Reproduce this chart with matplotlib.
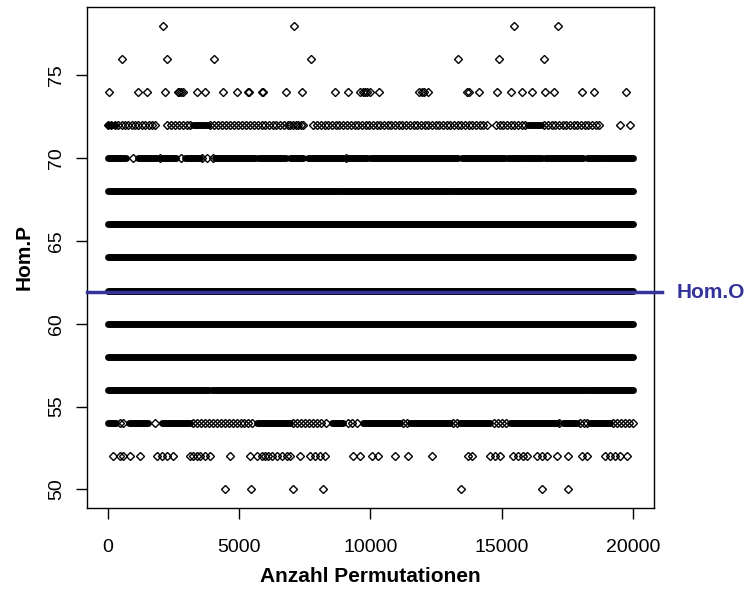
import matplotlib
matplotlib.use("Agg")
import matplotlib.pyplot as plt

plt.rcParams['font.family'] = ['Liberation Sans', 'DejaVu Sans']

# observed value of the original data (horizontal reference line)
hom_o = 61.9

# sparse rows: x positions (permutation index) of single points
row78_x = [2080, 7090, 15480, 17130]
row76_x = [550, 2260, 4030, 7730, 13350, 14910, 16620]
row74_x = [40, 1160, 1500, 2170, 2650, 2720, 2780, 2840, 3400, 3700, 4390, 4900,
           5330, 5370, 5860, 5900, 6770, 7400, 8650, 9130, 9620, 9720, 9800, 9880,
           9980, 10340, 11830, 11950, 12050, 12200, 13660, 13750, 14150, 14810,
           15340, 15760, 16170, 16660, 17000, 18050, 18510, 19730]
row72_x = [0, 130, 260, 400, 520, 650, 780, 900, 1030, 1160, 1290, 1420, 1550, 1680,
           1800, 2260, 2420, 2560, 2700, 2850, 3000, 3120, 3900, 4050, 4200, 4350,
           4500, 4660, 4800, 4950, 5100, 5250, 5400, 5550, 5700, 5850, 6000, 6150,
           6300, 6400, 6550, 6700, 6850, 6950, 7050, 7150, 7250, 7350, 7430, 7820,
           7970, 8120, 8260, 8400, 8540, 8680, 8820, 8960, 9100, 9250, 9400, 9540,
           9680, 9820, 9960, 10100, 10240, 10380, 10520, 10660, 10800, 10940, 11080,
           11220, 11360, 11500, 11640, 11780, 11920, 12060, 12200, 12340, 12480,
           12620, 12760, 12900, 13040, 13180, 13320, 13460, 13600, 13740, 13880,
           14020, 14160, 14300, 14440, 14780, 14920, 15060, 15200, 15340, 15480,
           15620, 15760, 15900, 16620, 16760, 16900, 17040, 17180, 17320, 17460,
           17600, 17740, 17880, 18020, 18160, 18300, 18440, 18580, 18720, 19500, 19880]
row70_x = [960, 1990, 2800, 3570, 3760, 4010, 9060]
row54_x = [450, 560, 1790, 3250, 3400, 3550, 3700, 3850, 4000, 4150, 4300, 4450,
           4600, 4750, 4900, 5050, 5200, 5350, 5500, 7050, 7200, 7350, 7500, 7650,
           7800, 7950, 8100, 8300, 9150, 9300, 9500, 11250, 11400, 13150, 13300,
           14700, 14850, 15000, 15150, 17200, 18000, 18150, 18250, 19250, 19400,
           19550, 19700, 19850, 20000]
row52_x = [200, 460, 580, 840, 1220, 1850, 2050, 2240, 2490, 3120, 3250, 3380, 3500,
           3700, 3890, 4650, 5410, 5660, 5860, 5980, 6110, 6240, 6430, 6620, 6810,
           6930, 7310, 7700, 7890, 8080, 8270, 9350, 9600, 10040, 10300, 10930,
           11440, 12330, 13730, 13850, 14550, 14740, 14930, 15440, 15630, 15820,
           15950, 16330, 16520, 16710, 17090, 17540, 18050, 18240, 18930, 19120,
           19310, 19500, 19760]
row50_x = [4460, 5450, 7040, 8200, 13440, 16550, 17510]

# dense rows: runs of consecutive permutations [from, to]
row72_runs = [[0, 250], [3250, 3800], [16000, 16500]]
row70_runs = [[0, 700], [1150, 1850], [2050, 2600], [2950, 3500], [4080, 5600],
              [5730, 6800], [6930, 7440], [7630, 8960], [9150, 9850], [9980, 13340],
              [13470, 15120], [15250, 15690], [15760, 16520], [16650, 18100],
              [18240, 18800], [18870, 20000]]
row68_runs = [[1, 8710], [8810, 13020], [13120, 20000]]
row66_runs = [[1, 20000]]
row64_runs = [[1, 20000]]
row62_runs = [[1, 20000]]
row60_runs = [[1, 20000]]
row58_runs = [[1, 20000]]
row56_runs = [[1, 3860], [3960, 18160], [18260, 20000]]
row54_runs = [[0, 300], [800, 1520], [2050, 3120], [5660, 6930], [8520, 8960],
              [9710, 11120], [11500, 13030], [13410, 14550], [15310, 17090],
              [17330, 17860], [18360, 19120]]

point_rows = [(78, row78_x), (76, row76_x), (74, row74_x), (72, row72_x),
              (70, row70_x), (54, row54_x), (52, row52_x), (50, row50_x)]
run_rows = [(72, row72_runs), (70, row70_runs), (68, row68_runs), (66, row66_runs),
            (64, row64_runs), (62, row62_runs), (60, row60_runs), (58, row58_runs),
            (56, row56_runs), (54, row54_runs)]

ms = 4.3
mew = 1.0
bar_lw = 5.0

fig = plt.figure(figsize=(7.44, 5.91), dpi=100)
ax = fig.add_axes([0.1169, 0.1404, 0.7621, 0.8478])

for y, xs in point_rows:
    ax.plot(xs, [y] * len(xs), ls='none', marker='D', ms=ms, mfc='none',
            mec='black', mew=mew, zorder=2)

for y, runs in run_rows:
    for a, b in runs:
        ax.plot([a, b], [y, y], color='black', lw=bar_lw, solid_capstyle='round',
                zorder=2)

ax.axhline(hom_o, xmin=0, xmax=1.015, color='#333399', lw=2.5, zorder=3,
           clip_on=False)
ax.text(1.04, hom_o, 'Hom.O', transform=ax.get_yaxis_transform(), color='#333399',
        fontsize=15, fontweight='bold', va='center', ha='left', clip_on=False)

ax.set_xlim(-800, 20800)
ax.set_ylim(48.88, 79.12)
ax.set_xticks([0, 5000, 10000, 15000, 20000])
ax.set_yticks([50, 55, 60, 65, 70, 75])
ax.tick_params(axis='both', length=8, width=1, labelsize=14, color='black')
ax.tick_params(axis='x', pad=14)
ax.tick_params(axis='y', pad=8)
for lab in ax.get_yticklabels():
    lab.set_rotation(90)
    lab.set_va('center')

for s in ax.spines.values():
    s.set_linewidth(1.0)

ax.set_xlabel('Anzahl Permutationen', fontsize=15, fontweight='bold', labelpad=8)
ax.set_ylabel('Hom.P', fontsize=15, fontweight='bold', labelpad=10)

fig.savefig('out.png', dpi=100)
